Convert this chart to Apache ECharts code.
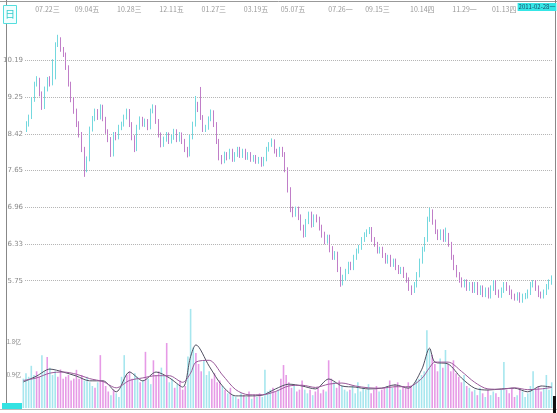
<!DOCTYPE html>
<html><head><meta charset="utf-8">
<script src="https://cdn.jsdelivr.net/npm/echarts@6.0.0/dist/echarts.min.js"></script>
<style>html,body{margin:0;padding:0;background:#fff}#c{width:557px;height:413px}</style>
</head><body><div id="c"></div>
<script>
const dateLabels = ['07.22三','09.04五','10.28三','12.11五','01.27三','03.19五','05.07五','07.26一','09.15三','10.14四','11.29一','01.13四'];
const dateLabelIdx = [8,23,39,55,71,87,101,119,133,150,166,181];
const lastDate = '2011-02-28一';
const priceTicks = ['5.75','6.33','6.96','7.65','8.42','9.25','10.19'];
const volTicks = ['0.9亿','1.8亿'];

const opens = [
8.52,8.63,8.79,9.20,9.58,9.70,9.34,9.02,9.46,9.70,
9.58,10.16,10.61,10.74,10.48,10.34,10.00,9.58,9.20,8.93,
8.63,8.40,8.09,7.67,7.88,8.52,8.75,8.93,8.79,9.02,
8.75,8.47,8.30,7.98,8.40,8.34,8.56,8.63,8.79,8.93,
8.63,8.34,8.09,8.56,8.75,8.63,8.70,8.56,8.93,9.02,
8.70,8.40,8.19,8.30,8.40,8.26,8.34,8.47,8.30,8.40,
8.26,8.09,7.98,8.34,8.63,9.09,8.97,8.79,8.52,8.56,
8.75,8.90,8.63,8.26,7.92,7.84,7.98,7.92,8.05,7.88,
7.98,8.09,7.96,8.05,7.92,7.98,7.88,7.92,7.84,7.88,
7.78,7.88,8.09,8.19,8.26,8.05,7.98,8.09,7.98,7.67,
7.28,6.92,6.83,6.92,6.78,6.60,6.48,6.70,6.83,6.65,
6.78,6.74,6.60,6.48,6.37,6.43,6.24,6.11,6.16,5.92,
5.72,5.79,5.89,6.00,5.95,6.11,6.21,6.27,6.40,6.48,
6.53,6.57,6.40,6.32,6.21,6.24,6.14,6.05,6.11,6.00,
6.05,5.95,5.89,5.92,5.83,5.76,5.64,5.61,5.69,5.84,
6.05,6.24,6.40,6.74,6.88,6.70,6.53,6.43,6.53,6.40,
6.47,6.32,6.11,5.95,5.84,5.76,5.69,5.73,5.64,5.69,
5.61,5.69,5.58,5.64,5.55,5.61,5.53,5.64,5.72,5.58,
5.54,5.61,5.69,5.64,5.58,5.52,5.50,5.54,5.47,5.52,
5.53,5.58,5.69,5.72,5.64,5.55,5.53,5.58,5.66,5.73];
const closes = [
8.63,8.79,9.20,9.58,9.70,9.34,9.02,9.46,9.70,9.58,
10.16,10.61,10.74,10.48,10.34,10.00,9.58,9.20,8.93,8.63,
8.40,8.09,7.67,7.88,8.52,8.75,8.93,8.79,9.02,8.75,
8.47,8.30,7.98,8.40,8.34,8.56,8.63,8.79,8.93,8.63,
8.34,8.09,8.56,8.75,8.63,8.70,8.56,8.93,9.02,8.70,
8.40,8.19,8.30,8.40,8.26,8.34,8.47,8.30,8.40,8.26,
8.09,7.98,8.34,8.63,9.09,8.97,8.79,8.52,8.56,8.75,
8.90,8.63,8.26,7.92,7.84,7.98,7.92,8.05,7.88,7.98,
8.09,7.96,8.05,7.92,7.98,7.88,7.92,7.84,7.88,7.78,
7.88,8.09,8.19,8.26,8.05,7.98,8.09,7.98,7.67,7.28,
6.92,6.83,6.92,6.78,6.60,6.48,6.70,6.83,6.65,6.78,
6.74,6.60,6.48,6.37,6.43,6.24,6.11,6.16,5.92,5.72,
5.79,5.89,6.00,5.95,6.11,6.21,6.27,6.40,6.48,6.53,
6.57,6.40,6.32,6.21,6.24,6.14,6.05,6.11,6.00,6.05,
5.95,5.89,5.92,5.83,5.76,5.64,5.61,5.69,5.84,6.05,
6.24,6.40,6.74,6.88,6.70,6.53,6.43,6.53,6.40,6.47,
6.32,6.11,5.95,5.84,5.76,5.69,5.73,5.64,5.69,5.61,
5.69,5.58,5.64,5.55,5.61,5.53,5.64,5.72,5.58,5.54,
5.61,5.69,5.64,5.58,5.52,5.50,5.54,5.47,5.52,5.53,
5.58,5.69,5.72,5.64,5.55,5.53,5.58,5.66,5.73,5.79];
const lows = [
8.46,8.58,8.75,9.15,9.52,9.28,8.96,8.98,9.40,9.52,
9.55,9.70,10.55,10.42,10.28,9.94,9.52,9.14,8.87,8.57,
8.34,8.03,7.53,7.62,7.84,8.47,8.70,8.73,8.74,8.70,
8.42,8.24,7.93,7.94,8.28,8.30,8.50,8.58,8.74,8.57,
8.28,8.03,8.05,8.51,8.58,8.57,8.50,8.52,8.88,8.64,
8.34,8.13,8.14,8.25,8.20,8.21,8.29,8.24,8.25,8.20,
8.03,7.92,7.94,8.30,8.58,8.91,8.73,8.46,8.46,8.51,
8.70,8.57,8.20,7.86,7.78,7.80,7.86,7.88,7.83,7.83,
7.93,7.91,7.91,7.87,7.87,7.83,7.83,7.79,7.79,7.73,
7.74,7.84,8.04,8.14,8.00,7.93,7.93,7.93,7.62,7.23,
6.87,6.78,6.79,6.73,6.55,6.43,6.44,6.66,6.60,6.61,
6.69,6.55,6.43,6.32,6.33,6.19,6.07,6.07,5.88,5.66,
5.68,5.75,5.85,5.91,5.91,6.07,6.17,6.23,6.36,6.44,
6.49,6.36,6.28,6.17,6.17,6.10,6.01,6.01,5.96,5.96,
5.91,5.85,5.85,5.79,5.72,5.60,5.54,5.57,5.65,5.80,
6.01,6.20,6.36,6.70,6.65,6.49,6.39,6.39,6.36,6.36,
6.28,6.07,5.91,5.80,5.72,5.65,5.65,5.60,5.60,5.57,
5.57,5.54,5.54,5.51,5.51,5.49,5.49,5.60,5.54,5.50,
5.50,5.57,5.60,5.54,5.48,5.46,5.46,5.43,5.43,5.48,
5.49,5.54,5.65,5.60,5.51,5.49,5.49,5.54,5.62,5.69];
const highs = [
8.70,8.85,9.26,9.64,9.78,9.74,9.40,9.52,9.76,9.78,
10.22,10.68,10.89,10.82,10.55,10.40,10.06,9.64,9.26,8.99,
8.70,8.46,8.14,7.94,8.58,8.82,8.99,8.98,9.09,9.08,
8.80,8.52,8.35,8.46,8.46,8.62,8.69,8.85,8.99,8.98,
8.68,8.39,8.62,8.81,8.80,8.76,8.75,8.99,9.09,9.07,
8.75,8.45,8.36,8.46,8.45,8.40,8.53,8.52,8.46,8.45,
8.31,8.14,8.40,8.69,9.29,9.15,9.51,8.84,8.62,8.81,
8.97,8.95,8.68,8.31,7.97,8.04,8.03,8.10,8.10,8.03,
8.14,8.14,8.10,8.10,8.03,8.03,7.97,7.97,7.93,7.93,
7.93,8.14,8.24,8.32,8.30,8.10,8.14,8.14,8.03,7.72,
7.33,6.97,6.97,6.97,6.83,6.65,6.75,6.88,6.88,6.83,
6.83,6.79,6.65,6.53,6.48,6.48,6.29,6.21,6.20,5.96,
5.84,5.93,6.04,6.04,6.15,6.25,6.31,6.44,6.52,6.57,
6.61,6.61,6.44,6.36,6.28,6.28,6.18,6.15,6.15,6.09,
6.09,5.99,5.96,5.96,5.87,5.80,5.68,5.73,5.88,6.09,
6.28,6.44,6.79,6.95,6.92,6.74,6.57,6.57,6.57,6.60,
6.51,6.36,6.15,5.99,5.88,5.80,5.77,5.77,5.73,5.73,
5.73,5.73,5.68,5.68,5.65,5.65,5.68,5.76,5.76,5.62,
5.65,5.73,5.73,5.68,5.62,5.56,5.58,5.58,5.56,5.57,
5.62,5.73,5.76,5.76,5.68,5.59,5.62,5.70,5.77,5.83];
const volumes = [
0.80,0.95,0.85,1.15,0.90,1.00,0.85,1.44,1.00,1.39,
1.10,0.90,1.00,0.85,1.05,0.80,0.85,0.90,0.75,0.80,
1.04,0.80,0.90,0.75,0.85,0.70,0.60,0.55,0.70,1.44,
0.75,0.60,0.45,0.35,0.50,0.40,0.30,0.85,1.44,0.90,
1.00,0.80,0.95,0.85,0.70,0.75,1.53,0.80,0.65,1.30,
0.90,1.00,1.10,0.90,1.77,0.70,0.80,0.55,0.65,0.75,
0.50,0.60,1.40,2.70,1.65,1.50,1.20,1.00,1.30,0.90,
1.00,0.80,0.95,0.70,0.75,0.60,0.50,0.40,0.55,0.35,
0.30,0.25,0.40,0.35,0.30,0.45,0.25,0.35,0.30,0.40,
0.30,1.04,0.45,0.50,0.55,0.45,0.50,0.80,1.17,0.90,
0.70,0.55,0.60,0.45,0.50,0.75,0.50,0.40,0.50,0.35,
0.45,0.55,0.40,0.50,0.45,1.30,0.80,0.70,0.55,0.75,
0.60,0.50,0.45,0.50,0.60,0.40,0.70,0.45,0.55,0.50,
0.65,0.40,0.50,0.60,0.45,0.50,0.55,0.60,0.75,0.55,
0.65,0.70,0.50,0.60,0.55,0.70,0.60,0.65,0.75,0.80,
0.90,1.00,2.12,1.60,1.45,1.20,1.00,1.35,1.10,1.58,
1.20,1.00,1.30,0.95,0.85,0.70,0.90,0.60,0.55,0.45,
0.50,0.35,0.55,0.40,0.30,0.50,0.35,0.45,0.40,0.30,
0.50,1.25,0.50,0.40,0.55,0.30,0.35,0.50,0.45,0.30,
0.40,0.60,1.00,0.50,0.60,0.45,0.55,0.90,0.50,0.70];
const maIdx = [0,5,10,15,20,25,30,35,40,45,50,55,60,63,65,70,75,80,85,90,95,100,105,110,115,120,125,130,135,140,145,150,153,155,160,165,170,175,180,185,190,195,199];
const volMa5 = [0.71,0.87,1.06,0.98,0.87,0.74,0.74,0.44,0.98,0.74,0.98,0.82,0.57,1.40,1.72,1.14,0.60,0.33,0.33,0.35,0.52,0.65,0.60,0.52,0.79,0.60,0.57,0.52,0.54,0.63,0.54,1.04,1.63,1.25,1.20,0.82,0.54,0.49,0.52,0.54,0.44,0.60,0.57];
const volMa10 = [0.75,0.82,0.95,0.98,0.92,0.80,0.72,0.55,0.75,0.82,0.88,0.88,0.70,0.95,1.25,1.30,0.90,0.50,0.36,0.36,0.45,0.60,0.62,0.56,0.65,0.68,0.60,0.55,0.54,0.58,0.58,0.80,1.10,1.25,1.25,1.00,0.70,0.52,0.51,0.55,0.50,0.52,0.56];

const BASE = 5.75, RATIO = 1.1;
const toStep = p => Math.log(p / BASE) / Math.log(RATIO);
const cats = closes.map((_, i) => String(i));
const candleData = closes.map((c, i) => [toStep(opens[i]), toStep(c), toStep(lows[i]), toStep(highs[i])]);
const volData = volumes.map((v, i) => ({value: v, itemStyle: {color: closes[i] >= opens[i] ? '#a6e6ee' : '#e69ae6'}}));

const chart = echarts.init(document.getElementById('c'), null, {renderer: 'canvas'});
const grey = '#8a8a8a';
chart.setOption({
  animation: false,
  backgroundColor: '#ffffff',
  grid: [
    {left: 22, right: 4, top: 23.8, height: 293.6},
    {left: 22, right: 4, top: 308.9, height: 99.1}
  ],
  xAxis: [
    {type: 'category', gridIndex: 0, data: cats, position: 'top', boundaryGap: true,
     axisLine: {show: false}, axisTick: {show: false}, splitLine: {show: false},
     axisLabel: {interval: (i) => dateLabelIdx.includes(i),
       formatter: (v, i) => { const k = dateLabelIdx.indexOf(i); return k >= 0 ? dateLabels[k] : ''; },
       fontSize: 7, color: '#999', margin: 11, fontFamily: 'Noto Sans CJK SC'}},
    {type: 'category', gridIndex: 1, data: cats, boundaryGap: true,
     axisLine: {show: false}, axisTick: {show: false}, axisLabel: {show: false}, splitLine: {show: false}}
  ],
  yAxis: [
    {type: 'value', gridIndex: 0, min: -1, max: 7, interval: 1,
     axisLine: {show: false}, axisTick: {show: false},
     axisLabel: {formatter: v => priceTicks[Math.round(v)] || '', fontSize: 7, color: grey, margin: 2, fontFamily: 'DejaVu Sans'},
     splitLine: {show: true, showMinLine: false, showMaxLine: false, lineStyle: {type: 'dotted', color: '#b4b4b4', width: 1}}},
    {type: 'value', gridIndex: 1, min: 0, max: 2.7, interval: 0.9,
     axisLine: {show: false}, axisTick: {show: false}, splitLine: {show: false},
     axisLabel: {formatter: v => volTicks[Math.round(v / 0.9) - 1] || '', fontSize: 6, color: grey, margin: 1, fontFamily: 'Noto Sans CJK SC'}}
  ],
  series: [
    {type: 'candlestick', xAxisIndex: 0, yAxisIndex: 0, data: candleData, barWidth: 1.2,
     itemStyle: {color: '#74d8de', color0: '#c07ec8', borderColor: '#74d8de', borderColor0: '#c07ec8', borderWidth: 1}},
    {type: 'bar', xAxisIndex: 1, yAxisIndex: 1, data: volData, barWidth: 1.6},
    {type: 'line', xAxisIndex: 1, yAxisIndex: 1, data: maIdx.map((ix, k) => [ix, volMa5[k]]), smooth: 0.3, symbol: 'none',
     lineStyle: {color: '#505062', width: 1}},
    {type: 'line', xAxisIndex: 1, yAxisIndex: 1, data: maIdx.map((ix, k) => [ix, volMa10[k]]), smooth: 0.3, symbol: 'none',
     lineStyle: {color: '#9a5a9a', width: 1}}
  ],
  graphic: [
    {type: 'line', shape: {x1: 0, y1: 1.5, x2: 557, y2: 1.5}, style: {stroke: '#999', lineWidth: 1}},
    {type: 'line', shape: {x1: 6.5, y1: 0, x2: 6.5, y2: 406}, style: {stroke: '#888', lineWidth: 1}},
    {type: 'line', shape: {x1: 555.5, y1: 0, x2: 555.5, y2: 413}, style: {stroke: '#888', lineWidth: 1}},
    {type: 'line', shape: {x1: 0, y1: 409.5, x2: 557, y2: 409.5}, style: {stroke: '#bbb', lineWidth: 1}},
    {type: 'rect', shape: {x: 553, y: 396, width: 3, height: 17}, style: {fill: '#111'}},
    {type: 'rect', shape: {x: 3.5, y: 5.5, width: 13, height: 18}, style: {fill: '#f2ffff', stroke: '#55dede', lineWidth: 1}},
    {type: 'text', x: 10, y: 14.5, style: {text: '日', fill: '#33cccc', fontSize: 10, fontFamily: 'Noto Sans CJK SC', align: 'center', verticalAlign: 'middle'}},
    {type: 'rect', shape: {x: 2, y: 403, width: 20, height: 6}, style: {fill: '#33e2e2'}},
    {type: 'text', x: 537, y: 7, style: {text: lastDate, fill: '#1a4a6a', fontSize: 6, fontFamily: 'Noto Sans CJK SC', align: 'center', verticalAlign: 'middle', backgroundColor: '#35e6e6', padding: [1, 1]}}
  ]
});
</script>
</body></html>
